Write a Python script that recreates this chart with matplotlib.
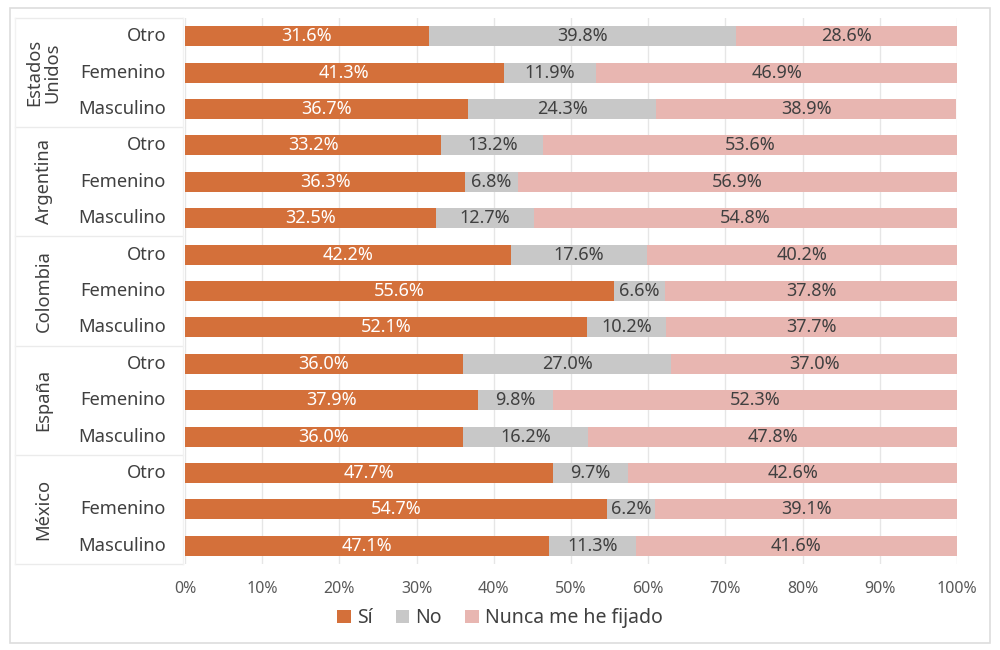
import numpy as np
import matplotlib
matplotlib.use("Agg")
import matplotlib.pyplot as plt
from matplotlib.patches import Rectangle, Patch

plt.rcParams['font.family'] = ['Noto Sans', 'DejaVu Sans']

# datos (de arriba hacia abajo)
paises = ["Estados\nUnidos", "Argentina", "Colombia", "España", "México"]
generos = ["Otro", "Femenino", "Masculino"]
si = [31.6, 41.3, 36.7, 33.2, 36.3, 32.5, 42.2, 55.6, 52.1, 36.0, 37.9, 36.0, 47.7, 54.7, 47.1]
no = [39.8, 11.9, 24.3, 13.2, 6.8, 12.7, 17.6, 6.6, 10.2, 27.0, 9.8, 16.2, 9.7, 6.2, 11.3]
nunca = [28.6, 46.9, 38.9, 53.6, 56.9, 54.8, 40.2, 37.8, 37.7, 37.0, 52.3, 47.8, 42.6, 39.1, 41.6]
series = ["Sí", "No", "Nunca me he fijado"]
colores = ["#D4703A", "#C8C8C8", "#E8B6B1"]
color_texto = ["white", "#404040", "#404040"]

fig = plt.figure(figsize=(10, 6.5), dpi=100)
ax = fig.add_axes([0.185, 0.1323, 0.772, 0.8400])

# marco exterior
fig.patches.append(Rectangle((0.010, 0.011), 0.980, 0.977, transform=fig.transFigure,
                             fill=False, edgecolor="#DDDDDD", linewidth=1.2))

y = np.arange(len(si))
izq = np.zeros(len(si))
for vals, col, tcol, nom in zip([si, no, nunca], colores, color_texto, series):
    vals = np.array(vals)
    bars = ax.barh(y, vals, left=izq, height=0.55, color=col, label=nom, zorder=3)
    for b, v in zip(bars, vals):
        ax.text(b.get_x() + b.get_width() / 2, b.get_y() + b.get_height() / 2,
                f"{v:.1f}%", ha="center", va="center", color=tcol, fontsize=13, zorder=4)
    izq += vals

ax.set_xlim(0, 100)
ax.set_ylim(14.5, -0.5)
ax.set_xticks(np.arange(0, 101, 10))
ax.set_xticklabels([f"{t}%" for t in range(0, 101, 10)], fontsize=11.5, color="#595959")
ax.set_yticks([])
ax.tick_params(axis="x", length=0, pad=12)
ax.grid(axis="x", color="#E6E6E6", linewidth=1, zorder=0)
for s in ax.spines.values():
    s.set_visible(False)

# etiquetas de categorías agrupadas
tr = ax.get_yaxis_transform()
for i in range(len(si)):
    ax.text(-0.0246, i, generos[i % 3], transform=tr, ha="right", va="center",
            fontsize=13.2, color="#404040")
for g, p in enumerate(paises):
    ax.text(-0.183, g * 3 + 1, p, transform=tr, ha="center", va="center",
            rotation=90, fontsize=13.2, color="#404040", linespacing=1.0)
for yy in [-0.5, 2.5, 5.5, 8.5, 11.5, 14.5]:
    ax.plot([-0.220, -0.002], [yy, yy], transform=tr, color="#EBEBEB",
            linewidth=1, clip_on=False)
ax.plot([-0.220, -0.220], [-0.5, 14.5], transform=tr, color="#F2F2F2",
        linewidth=1, clip_on=False)
ax.plot([-0.002, -0.002], [-0.5, 14.5], transform=tr, color="#F2F2F2",
        linewidth=1, clip_on=False)

handles = [Patch(facecolor=c, label=s) for c, s in zip(colores, series)]
fig.legend(handles=handles, loc="center", bbox_to_anchor=(0.5, 0.049), ncol=3,
           frameon=False, fontsize=14, handlelength=0.7, handleheight=0.7,
           handletextpad=0.3, columnspacing=1.2, labelcolor="#404040")

fig.savefig("out.png", dpi=100)
